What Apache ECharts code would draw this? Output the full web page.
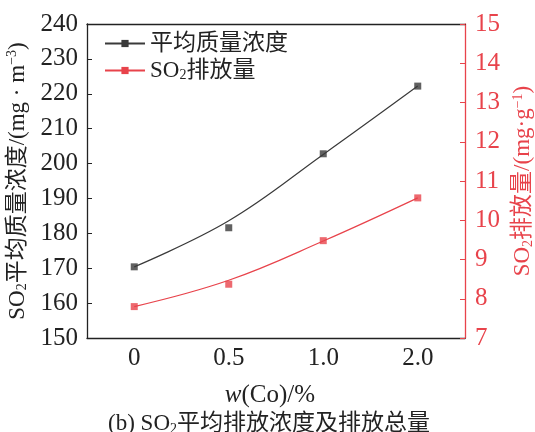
<!DOCTYPE html>
<html><head><meta charset="utf-8">
<script src="https://cdn.jsdelivr.net/npm/echarts@6/dist/echarts.min.js"></script>
<style>html,body{margin:0;padding:0;background:#fff}#c{width:535px;height:432px}</style>
</head><body><div id="c"></div>
<script>
const categories = ['0', '0.5', '1.0', '2.0'];
const concPoints = [170.4, 181.6, 202.8, 222.2];
const concFit = [170.4, 183.6, 202.6, 222.2];
const emisPoints = [7.80, 8.37, 9.48, 10.57];
const emisFit = [7.80, 8.47, 9.47, 10.57];
const leftTicks = [150, 240, 10];
const rightTicks = [7, 15, 1];

const FONT = '"Liberation Serif","Noto Sans CJK SC",serif';
const BLACK = '#3a3a3a';
const RED = '#e8434b';
const fs = 23;
const lfs = 25;
const sub = 14;

function labelStyle(color, margin) {
  return {show: true, fontFamily: FONT, fontSize: lfs, color: color, margin: margin};
}

const chart = echarts.init(document.getElementById('c'), null, {renderer: 'canvas'});
chart.setOption({
  animation: false,
  backgroundColor: '#fff',
  textStyle: {fontFamily: FONT},
  grid: {left: 87, right: 70, top: 24, bottom: 94, containLabel: false, outerBoundsMode: 'none'},
  title: {
    text: '{t|(b) SO}{s|2}{t|平均排放浓度及排放总量}',
    left: 264, textAlign: 'center', top: 407,
    textStyle: {fontWeight: 'normal', rich: {
      t: {fontFamily: FONT, fontSize: fs, fontWeight: 'normal', color: '#222'},
      s: {fontFamily: FONT, fontSize: sub, fontWeight: 'normal', color: '#222', padding: [10, 0, 0, 0]}
    }}
  },
  legend: {
    left: 99, top: 27, orient: 'vertical', itemWidth: 40, itemHeight: 9, itemGap: 4,
    data: ['平均质量浓度', 'SO2排放量'],
    formatter: function (n) { return n === 'SO2排放量' ? '{t|SO}{s|2}{t|排放量}' : '{t|' + n + '}'; },
    textStyle: {rich: {
      t: {fontFamily: FONT, fontSize: fs, lineHeight: 24, color: '#222'},
      s: {fontFamily: FONT, fontSize: sub, lineHeight: 14, color: '#222', padding: [9, 0, 0, 0]}
    }}
  },
  xAxis: [{
    type: 'category', data: categories, boundaryGap: true,
    axisLine: {lineStyle: {color: '#222', width: 1.3}},
    axisTick: {inside: true, alignWithLabel: true, length: 5, lineStyle: {color: '#222'}},
    axisLabel: labelStyle('#222', 8),
    name: '{i|w}{t|(Co)/%}', nameLocation: 'middle', nameGap: 45,
    nameTextStyle: {padding: [0, 12, 0, 0], rich: {
      i: {fontFamily: FONT, fontSize: 25, fontStyle: 'italic', color: '#222'},
      t: {fontFamily: FONT, fontSize: 25, color: '#222'}
    }}
  }, {
    type: 'category', data: categories, position: 'top', boundaryGap: true,
    axisLine: {lineStyle: {color: '#222', width: 1.3}},
    axisTick: {show: false}, axisLabel: {show: false}
  }],
  yAxis: [{
    type: 'value', min: leftTicks[0], max: leftTicks[1], interval: leftTicks[2],
    splitLine: {show: false},
    axisLine: {show: true, lineStyle: {color: '#222', width: 1.3}},
    axisTick: {show: true, inside: true, length: 5, lineStyle: {color: '#222'}},
    axisLabel: labelStyle('#222', 9),
    name: '{t|SO}{s|2}{t|平均质量浓度/(mg · m}{p|−3}{t|)}',
    nameLocation: 'middle', nameRotate: 90, nameGap: 49,
    nameTextStyle: {rich: {
      t: {fontFamily: FONT, fontSize: fs, color: '#222'},
      s: {fontFamily: FONT, fontSize: sub, color: '#222', padding: [10, 0, 0, 0]},
      p: {fontFamily: FONT, fontSize: sub, color: '#222', padding: [0, 0, 10, 0]}
    }}
  }, {
    type: 'value', min: rightTicks[0], max: rightTicks[1], interval: rightTicks[2],
    position: 'right', splitLine: {show: false},
    axisLine: {show: true, lineStyle: {color: RED, width: 1.3}},
    axisTick: {show: true, inside: true, length: 5, lineStyle: {color: RED}},
    axisLabel: labelStyle(RED, 10),
    name: '{t|SO}{s|2}{t|排放量/(mg·g}{p|−1}{t|)}',
    nameLocation: 'middle', nameRotate: 90, nameGap: 46,
    nameTextStyle: {rich: {
      t: {fontFamily: FONT, fontSize: fs, color: RED},
      s: {fontFamily: FONT, fontSize: sub, color: RED, padding: [10, 0, 0, 0]},
      p: {fontFamily: FONT, fontSize: sub, color: RED, padding: [0, 0, 10, 0]}
    }}
  }],
  series: [
    {name: '平均质量浓度', type: 'line', smooth: 0.4, data: concFit, yAxisIndex: 0,
     symbol: 'rect', showSymbol: false, lineStyle: {color: BLACK, width: 1.2}, itemStyle: {color: BLACK}},
    {name: '平均质量浓度', type: 'scatter', data: concPoints, yAxisIndex: 0,
     symbol: 'rect', symbolSize: 7, itemStyle: {color: BLACK}},
    {name: 'SO2排放量', type: 'line', smooth: 0.4, data: emisFit, yAxisIndex: 1,
     symbol: 'rect', showSymbol: false, lineStyle: {color: RED, width: 1.2}, itemStyle: {color: RED}},
    {name: 'SO2排放量', type: 'scatter', data: emisPoints, yAxisIndex: 1,
     symbol: 'rect', symbolSize: 7, itemStyle: {color: RED}}
  ]
});
</script></body></html>
